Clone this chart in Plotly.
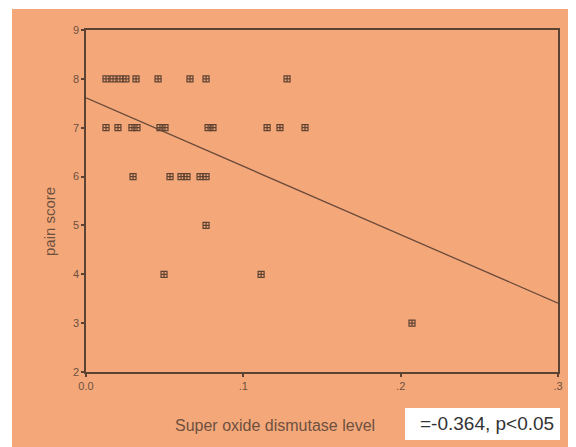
import plotly.graph_objects as go

# ---- data ----
sod_8 = [0.0127, 0.0172, 0.0216, 0.0254, 0.0318, 0.0458, 0.0661, 0.0763, 0.1278]
sod_7 = [0.0127, 0.0203, 0.0292, 0.0324, 0.0470, 0.0502, 0.0776, 0.0807, 0.1151, 0.1233, 0.1392]
sod_6 = [0.0299, 0.0534, 0.0604, 0.0642, 0.0725, 0.0763]
sod_5 = [0.0763]
sod_4 = [0.0496, 0.1113]
sod_3 = [0.2072]

fit_x = [0.0, 0.3]
fit_y = [7.61, 3.41]

x_tickvals = [0.0, 0.1, 0.2, 0.3]
x_ticktext = ["0.0", ".1", ".2", ".3"]
y_tickvals = [2, 3, 4, 5, 6, 7, 8, 9]

x_title = "Super oxide dismutase level"
y_title = "pain score"
stat_text = "=-0.364, p<0.05"

xs, ys = [], []
for score, vals in [(8, sod_8), (7, sod_7), (6, sod_6), (5, sod_5), (4, sod_4), (3, sod_3)]:
    xs += vals
    ys += [score] * len(vals)

# ---- layout geometry (page offset of 8px from body margin) ----
OFF = 8
W, H = 576 - OFF, 447 - OFF
L, T = 86 - OFF, 30 - OFF
R = W - (558 - OFF)
B = H - (372 - OFF)
PW, PH = W - L - R, H - T - B

def px(xs_screen):
    return (xs_screen - OFF - L) / PW

def py(ys_screen):
    return (H - B - (ys_screen - OFF)) / PH

ORANGE = "#F4A87A"
AXIS = "#5c4232"
TXT = "#6e5040"

fig = go.Figure()
fig.add_trace(go.Scatter(
    x=xs, y=ys, mode="markers",
    marker=dict(symbol="square-cross-open", size=6, color="#5e4232", line=dict(width=1.2)),
    showlegend=False, hoverinfo="skip"))
fig.add_trace(go.Scatter(
    x=fit_x, y=fit_y, mode="lines",
    line=dict(color="#6a4a3a", width=1.3), showlegend=False, hoverinfo="skip"))

shapes = [
    dict(type="rect", xref="paper", yref="paper", x0=px(12), x1=px(580), y0=py(452), y1=py(9),
         fillcolor=ORANGE, line=dict(width=0), layer="below"),
    dict(type="rect", xref="paper", yref="paper", x0=px(405), x1=px(560), y0=py(440), y1=py(408),
         fillcolor="white", line=dict(width=0), layer="above"),
]

annotations = [
    dict(text=x_title, xref="paper", yref="paper", x=px(275), y=py(425), showarrow=False,
         font=dict(family="Liberation Sans", size=16, color=TXT), xanchor="center", yanchor="middle"),
    dict(text=y_title, xref="paper", yref="paper", x=px(49), y=py(222), showarrow=False,
         textangle=-90, font=dict(family="Liberation Sans", size=15, color=TXT),
         xanchor="center", yanchor="middle"),
    dict(text=stat_text, xref="paper", yref="paper", x=px(556), y=py(424), showarrow=False,
         font=dict(family="Liberation Sans", size=19, color="#333333"),
         xanchor="right", yanchor="middle"),
]

fig.update_layout(
    width=W, height=H,
    margin=dict(l=L, r=R, t=T, b=B, pad=0),
    paper_bgcolor="white",
    plot_bgcolor="rgba(0,0,0,0)",
    shapes=shapes,
    annotations=annotations,
    xaxis=dict(range=[0, 0.3], tickvals=x_tickvals, ticktext=x_ticktext,
               showgrid=False, zeroline=False, showline=True, linecolor=AXIS, linewidth=1.5,
               mirror=True, ticks="outside", ticklen=3, tickwidth=2, tickcolor=AXIS,
               tickfont=dict(family="Liberation Sans", size=11, color=TXT)),
    yaxis=dict(range=[2, 9], tickvals=y_tickvals,
               showgrid=False, zeroline=False, showline=True, linecolor=AXIS, linewidth=1.5,
               mirror=True, ticks="outside", ticklen=3, tickwidth=2, tickcolor=AXIS,
               tickfont=dict(family="Liberation Sans", size=11, color=TXT)),
)

fig.write_html("out.html")
